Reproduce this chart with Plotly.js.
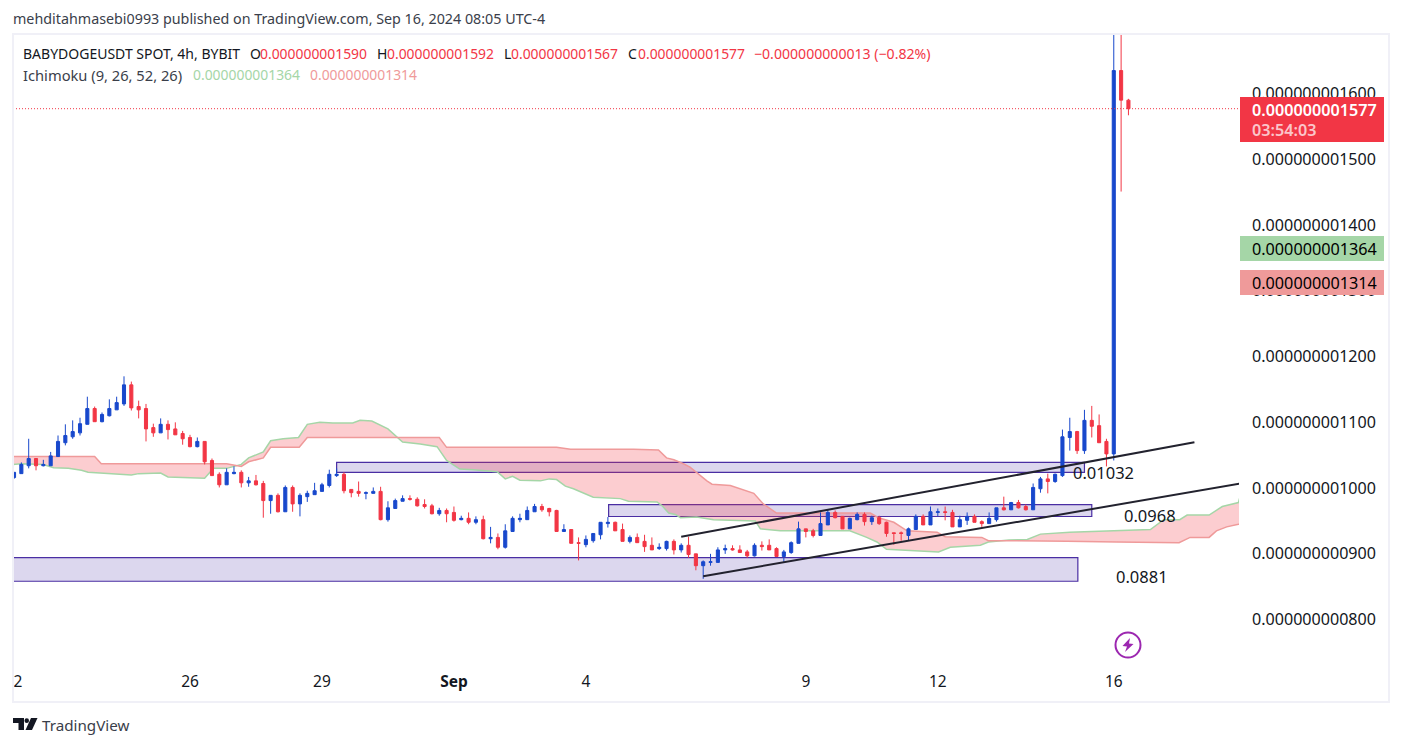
<!DOCTYPE html>
<html>
<head>
<meta charset="utf-8">
<title>BABYDOGEUSDT 4h</title>
<script src="https://cdn.plot.ly/plotly-3.0.1.min.js"></script>
<style>
  html, body { margin: 0; padding: 0; background: #fff; overflow: hidden; }
  #chart { width: 1402px; height: 746px; }
</style>
</head>
<body>
<div id="chart"></div>
<script>
// prices are in units of 1e-12 USDT, x is the candle number (4h bars, 0 = Aug 22)
const open = [1016,1022,1034,1045,1034,1034,1048,1069,1078,1084,1097,1121,1101,1110,1119,1128,1157,1124,1121,1092,1084,1097,1090,1083,1077,1063,1071,1042,1021,1005,1022,1024,1008,1011,1007,981,989,964,1001,976,987,990,995,1004,1019,1021,998,995,992,992,995,952,969,980,984,983,975,973,961,966,963,952,954,948,952,923,925,910,934,952,952,964,972,969,966,934,937,917,914,920,929,946,948,937,919,925,919,913,908,908,919,906,913,900,882,887,887,906,908,906,903,897,913,913,908,896,902,916,938,935,928,944,963,957,938,952,960,949,955,948,932,932,928,937,957,944,963,964,963,941,951,957,949,946,952,970,967,978,972,967,999,1014,1010,1019,1077,1086,1057,1103,1095,1071,1052,1635,1590];
const high = [1024,1039,1075,1045,1043,1055,1080,1097,1103,1107,1139,1124,1115,1135,1139,1170,1162,1133,1128,1098,1106,1103,1100,1087,1081,1077,1071,1045,1024,1030,1033,1027,1017,1020,1011,989,992,1004,1004,992,996,1008,1008,1028,1030,1024,998,1010,995,1001,1002,980,984,989,989,986,983,976,970,969,972,958,963,957,958,941,931,945,957,961,972,976,976,970,967,945,937,925,928,931,948,956,949,946,928,931,929,925,916,920,922,916,926,900,890,900,910,914,913,913,906,916,919,922,910,906,919,949,938,938,963,967,966,957,955,963,963,958,958,949,932,934,940,960,960,972,969,972,967,958,963,960,951,963,970,987,979,982,975,1007,1017,1022,1022,1089,1107,1087,1119,1125,1112,1075,1760,1760,1592];
const low = [1014,1022,1030,1027,1033,1034,1048,1065,1075,1080,1097,1101,1100,1109,1119,1125,1118,1106,1071,1078,1084,1074,1081,1066,1062,1062,1036,1019,1001,1005,1021,1001,1002,1004,955,961,963,964,964,957,979,990,995,1001,1017,992,986,987,983,992,951,949,969,980,981,972,969,960,958,948,949,951,945,945,922,916,907,908,934,948,952,964,964,957,934,934,916,890,910,917,922,940,935,919,916,917,903,906,906,905,899,902,894,875,862,882,887,900,905,902,894,896,905,906,896,887,900,916,925,925,928,944,954,938,938,951,943,944,944,926,914,920,920,937,944,944,957,951,941,941,944,948,941,946,949,966,967,969,966,967,993,992,1008,1017,1057,1052,1052,1077,1069,1033,1042,1451,1567];
const close = [1024,1036,1045,1034,1036,1049,1071,1080,1086,1098,1121,1101,1112,1121,1130,1157,1122,1119,1090,1084,1097,1089,1081,1075,1063,1071,1040,1019,1005,1024,1024,1008,1011,1005,981,989,964,1001,976,989,992,996,1005,1021,1021,996,993,992,993,995,952,970,981,984,983,973,972,961,966,961,951,954,948,952,923,925,910,935,954,954,966,972,967,964,934,937,916,916,922,931,948,948,935,919,925,917,911,906,910,919,906,913,899,882,888,888,906,908,906,902,897,913,911,906,896,903,917,938,934,928,946,963,955,938,954,960,949,955,946,931,931,931,938,957,944,964,964,963,941,952,957,948,946,954,970,967,978,970,967,1001,1014,1010,1021,1078,1086,1057,1103,1094,1069,1052,1635,1590,1577];

// Ichimoku leading spans, read at their corners
const spanAx = [-1,1,4,5.4,7.4,9.2,10.1,12.6,14,16,17,20,21,24,26,27.2,29,31,32,34,35,36.7,38.8,40,41.7,43.5,46.2,47.2,48.8,51,53,55.4,57.7,59,60.8,62.6,65.9,67,68,69,71.8,73,74,75.2,76.3,79,82.7,83.8,87.7,88.4,89.3,90.2,90.9,93.1,95.4,101.1,101.8,104.5,114,116.3,117.7,119,126.1,127.7,131.8,132.9,135.7,138.2,140,144,149,155,156.8,159,160,163,164.8,167,167.2,168];
const spanA = [1035,1037,1036,1031,1030,1027,1024,1022,1021,1020,1022,1023,1017,1016,1015,1030,1030,1036,1046,1055,1072,1075,1077,1097,1100,1099,1099,1103,1102,1090,1070,1067,1063,1042,1029,1028,1025,1014,1018,1012,1011,1014,1013,1003,999,986,984,980,979,973,962,960,955,956,952,950,938,935,935,925,918,907,903,910,913,918,921,922,930,933,935,937,952,952,959,959,972,978,986,990];
const spanBx = [-1,11,11.9,29,31,32,34,35,38.9,40,58,59,74,75.9,84.5,87.9,89,90,91.3,92.2,94.5,95.2,97.7,100.9,102.2,104,116.8,117.9,120,121.8,125.9,127,132,132.9,135.7,138.2,143.6,150.4,155,158.9,160.4,163,164,165.4,167,168];
const spanB = [1048,1048,1037,1037,1033,1040,1046,1062,1062,1077,1077,1062,1062,1059,1059,1058,1046,1043,1037,1032,1011,1006,1004,992,976,962,962,955,948,935,933,926,925,920,920,920,919,918,918,917,925,925,935,941,945,948];

// purple zones: [first bar, last bar, top, bottom]
const zoneLow = [-5, 145.1, 894.3, 858.3];
const zoneMid = [81.1, 147, 975, 956.8];
const zoneTop = [44, 146, 1039, 1023.8];
// trend lines: [bar, price, bar, price]
const trendUpper = [91, 926, 161, 1069.7];
const trendLower = [94, 866, 167.2, 1007];

const priceTicks = [800, 900, 1000, 1100, 1200, 1300, 1400, 1500, 1600];
const priceTickText = priceTicks.map((p) => "0.00000000" + (p < 1000 ? "0" : "") + p);
const timeTicks = [0.55, 24, 42, 60, 78, 108, 126, 150];
const timeTickText = ["2", "26", "29", "<b>Sep</b>", "4", "9", "12", "16"];
const drawnLevels = [
  { text: "0.01032", bar: 148.55, price: 1023 },
  { text: "0.0968", bar: 155, price: 958 },
  { text: "0.0881", bar: 153.8, price: 865 },
];

const lastPrice = close[close.length - 1];
const xRange = [-0.14, 167.08];
const yRange = [726.4, 1690.6];

const BLUE = "#1848cc";
const RED = "#f23645";
const INK = "#131722";
const FONT = "'Noto Sans', sans-serif";
const plotBox = { l: 13, t: 34, w: 1226, h: 634 };

// picture pixels to paper fractions, for the page furniture around the chart
const paperX = (px) => (px - plotBox.l) / plotBox.w;
const paperY = (py) => (plotBox.t + plotBox.h - py) / plotBox.h;

function label(text, px, py, size, color, weight) {
  return {
    text, xref: "paper", yref: "paper", x: paperX(px - 2), y: paperY(py),
    xanchor: "left", yanchor: "middle", showarrow: false,
    font: { family: FONT, size, color, weight: weight || 400 },
  };
}

function box(x0, y0, x1, y1, fill) {
  return {
    type: "rect", xref: "paper", yref: "paper", layer: "above",
    x0: paperX(x0), x1: paperX(x1), y0: paperY(y0), y1: paperY(y1),
    fillcolor: fill, line: { width: 0 },
  };
}

function zone(z) {
  return {
    type: "rect", xref: "x", yref: "y", layer: "below",
    x0: z[0], x1: z[1], y0: z[3], y1: z[2],
    fillcolor: "#dcd7ee", line: { color: "#4a2ea3", width: 1.2 },
  };
}

function trend(t) {
  return {
    type: "line", xref: "x", yref: "y", layer: "above",
    x0: t[0], y0: t[1], x1: t[2], y1: t[3],
    line: { color: "#22222e", width: 2 },
  };
}

function paperPath(points) {
  return "M" + points.map((p) => paperX(p[0]) + "," + paperY(p[1])).join("L") + "Z";
}

const bars = open.map((_, i) => i);

const traces = [
  {
    type: "scatter", mode: "lines", x: spanAx, y: spanA, xaxis: "x", yaxis: "y",
    line: { color: "#a5d6a7", width: 1.5 }, hoverinfo: "skip", showlegend: false,
  },
  {
    type: "scatter", mode: "lines", x: spanBx, y: spanB, xaxis: "x", yaxis: "y",
    fill: "tonexty", fillcolor: "rgba(242,54,69,0.25)",
    line: { color: "#ef9a9a", width: 1.5 }, hoverinfo: "skip", showlegend: false,
  },
  {
    type: "candlestick", x: bars, open, high, low, close, xaxis: "x2", yaxis: "y2",
    increasing: { line: { color: BLUE, width: 1 }, fillcolor: BLUE },
    decreasing: { line: { color: RED, width: 1 }, fillcolor: RED },
    whiskerwidth: 0, showlegend: false, hoverinfo: "skip",
  },
];

const shapes = [
  zone(zoneLow), zone(zoneMid), zone(zoneTop),
  trend(trendUpper), trend(trendLower),
  {
    type: "line", xref: "x", yref: "y", layer: "above",
    x0: xRange[0], x1: xRange[1], y0: lastPrice, y1: lastPrice,
    line: { color: RED, width: 1, dash: "1px,2px" },
  },
  // chart frame
  {
    type: "rect", xref: "paper", yref: "paper", layer: "above",
    x0: paperX(13), x1: paperX(1389), y0: paperY(702), y1: paperY(34),
    line: { color: "#f0f0f7", width: 2 },
  },
  // price tags
  box(1240, 97, 1384, 142, RED),
  box(1240, 236, 1384, 261, "#a5d6a7"),
  box(1240, 270, 1384, 295, "#ef9a9a"),
  // lightning badge
  {
    type: "circle", xref: "paper", yref: "paper", layer: "above",
    x0: paperX(1115.5), x1: paperX(1140.5), y0: paperY(657.5), y1: paperY(632.5),
    line: { color: "#9c27b0", width: 2 },
  },
  {
    type: "path", xref: "paper", yref: "paper", layer: "above",
    path: paperPath([[1130, 638], [1122.5, 646], [1127, 646.5], [1125, 652], [1133.5, 644], [1129, 643.5]]),
    fillcolor: "#9c27b0", line: { width: 0 },
  },
  // TradingView logo
  {
    type: "path", xref: "paper", yref: "paper", layer: "above",
    path: paperPath([[13, 718], [24, 718], [24, 730], [18.5, 730], [18.5, 723], [13, 723]]),
    fillcolor: INK, line: { width: 0 },
  },
  {
    type: "circle", xref: "paper", yref: "paper", layer: "above",
    x0: paperX(24.5), x1: paperX(29), y0: paperY(723), y1: paperY(718.3),
    fillcolor: INK, line: { width: 0 },
  },
  {
    type: "path", xref: "paper", yref: "paper", layer: "above",
    path: paperPath([[31, 718], [37.5, 718], [32, 730], [25.5, 730]]),
    fillcolor: INK, line: { width: 0 },
  },
];

const annotations = [
  label("mehditahmasebi0993 published on TradingView.com, Sep 16, 2024 08:05 UTC-4", 13, 19, 14.3, "#3a3e4a"),
  label("BABYDOGEUSDT SPOT, 4h, BYBIT", 23, 53.5, 14, INK),
  label("O", 250, 53.5, 14, INK),
  label("0.000000001590", 260, 53.5, 13.9, RED),
  label("H", 377, 53.5, 14, INK),
  label("0.000000001592", 387, 53.5, 13.9, RED),
  label("L", 504, 53.5, 14, INK),
  label("0.000000001567", 511, 53.5, 13.9, RED),
  label("C", 628, 53.5, 14, INK),
  label("0.000000001577", 638, 53.5, 13.9, RED),
  label("−0.000000000013 (−0.82%)", 754, 53.5, 14.1, RED),
  label("Ichimoku (9, 26, 52, 26)", 23, 74.5, 14.7, "#3a3e4a"),
  label("0.000000001364", 193, 74.5, 13.9, "#a5d6a7"),
  label("0.000000001314", 310, 74.5, 13.9, "#ef9a9a"),
  label("0.000000001577", 1252, 110, 16.2, "#ffffff", 600),
  label("03:54:03", 1252, 130, 16.2, "#fbc5ca", 600),
  label("0.000000001364", 1252, 249, 16.2, "#000000"),
  label("0.000000001314", 1252, 283, 16.2, "#000000"),
  label("TradingView", 42, 725, 15.2, "#3a3e4a"),
].concat(drawnLevels.map((d) => ({
  text: d.text, x: d.bar, y: d.price, xref: "x", yref: "y",
  xanchor: "center", yanchor: "middle", showarrow: false,
  font: { family: FONT, size: 16.5, color: INK },
})));

const layout = {
  width: 1402,
  height: 746,
  margin: { l: plotBox.l, t: plotBox.t, r: 1402 - plotBox.l - plotBox.w, b: 746 - plotBox.t - plotBox.h, pad: 0 },
  paper_bgcolor: "#ffffff",
  plot_bgcolor: "#ffffff",
  showlegend: false,
  dragmode: false,
  boxgap: 0.4,
  font: { family: FONT, color: INK, size: 16 },
  xaxis: {
    range: xRange, tickvals: timeTicks, ticktext: timeTickText, tickmode: "array",
    showgrid: false, zeroline: false, showline: false, ticks: "", ticklabelstandoff: 2,
    tickfont: { family: FONT, size: 15.5, color: INK }, tickangle: 0,
    rangeslider: { visible: false },
  },
  yaxis: {
    range: yRange, side: "right", tickvals: priceTicks, ticktext: priceTickText, tickmode: "array",
    showgrid: false, zeroline: false, showline: false, ticks: "", ticklabelstandoff: 12,
    tickfont: { family: FONT, size: 16.1, color: INK },
  },
  xaxis2: { overlaying: "x", range: xRange, visible: false, rangeslider: { visible: false } },
  yaxis2: { overlaying: "y", range: yRange, visible: false },
  shapes,
  annotations,
};

Plotly.newPlot("chart", traces, layout, { staticPlot: true, displayModeBar: false });
</script>
</body>
</html>
